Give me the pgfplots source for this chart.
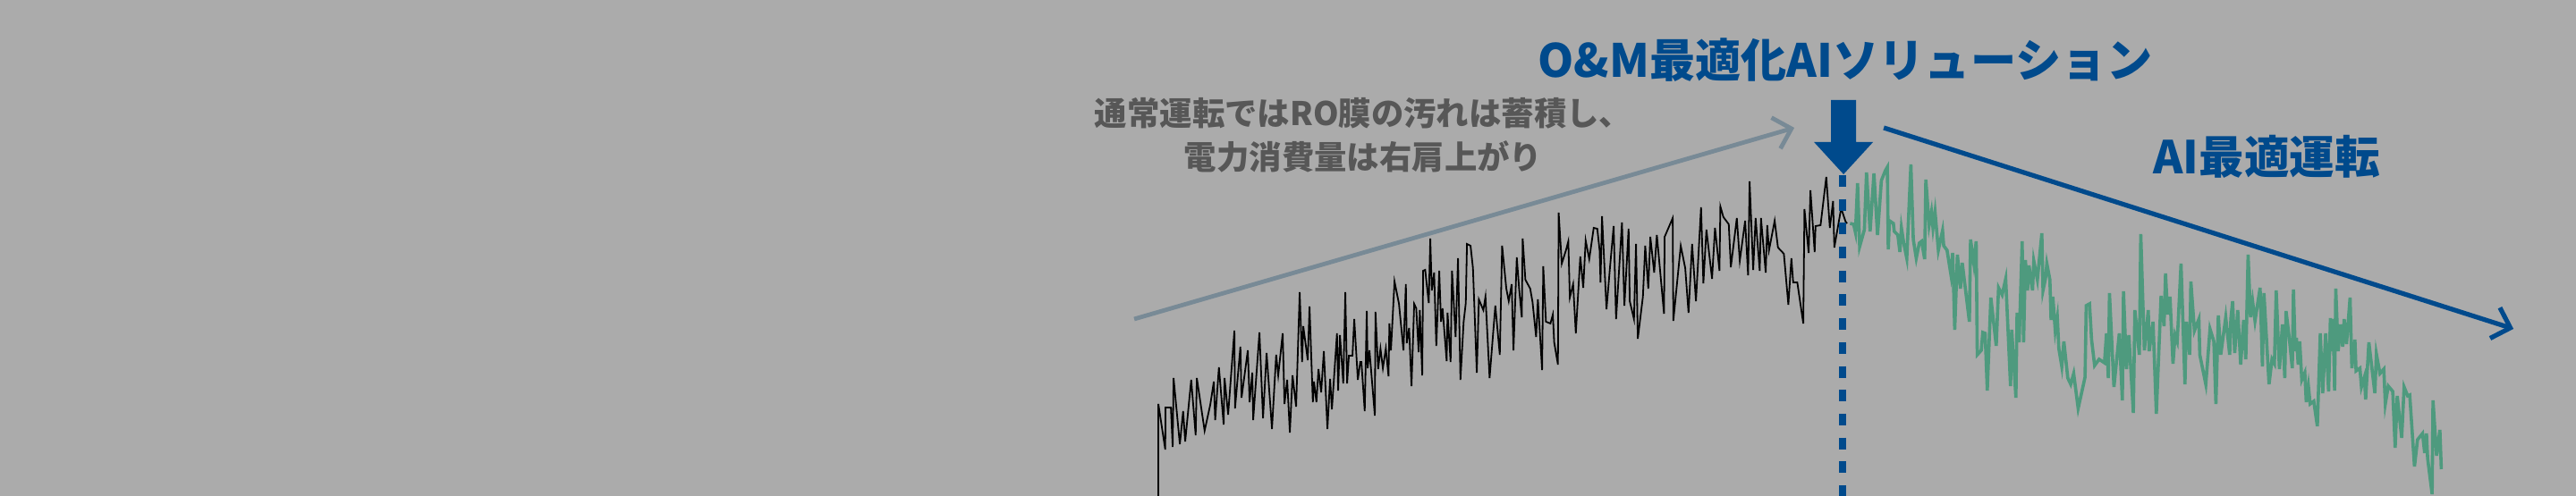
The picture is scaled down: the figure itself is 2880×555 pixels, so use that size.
\documentclass[border=0pt]{standalone}
\usepackage{pgfplots}
\pgfplotsset{compat=1.18}
\usepackage{fontspec}
\usetikzlibrary{arrows.meta}
\newfontfamily\jp{Noto Sans CJK JP}
\definecolor{bg}{HTML}{ABABAB}
\definecolor{aiblue}{HTML}{004A8C}
\definecolor{aigreen}{HTML}{4E9A7E}
\definecolor{trendgray}{HTML}{788A96}
\definecolor{txtgray}{HTML}{575757}

\begin{document}
\begin{tikzpicture}[x=0.5pt,y=0.5pt]
\useasboundingbox (0,0) rectangle (2880,555);
\fill[bg] (0,0) rectangle (2880,555);
\begin{axis}[
  at={(0,0)}, anchor=origin,
  width=1440pt, height=277.5pt, scale only axis,
  xmin=0, xmax=2880, ymin=0, ymax=555,
  hide axis,
]
  % normal operation: power consumption keeps rising
  \addplot[black, line width=0.9pt, line join=miter] coordinates {
    (1295,-5) (1295,103) (1302.7,52) (1303,99) (1309,99) (1311,55) (1312,132)
    (1319,58) (1322.7,95) (1325,61) (1331.7,130) (1336.7,68) (1338,132)
    (1346.7,73) (1353,102) (1357,128) (1358.5,85) (1362.7,144) (1368,80)
    (1369,132) (1373,91) (1380,185) (1380.7,98) (1386.7,167) (1388,110)
    (1395,163) (1397,105) (1400,138) (1401,85) (1408,183) (1412,87) (1416,160)
    (1422,75) (1426.7,158) (1429,135) (1434,182) (1436,103) (1439,130)
    (1442,71) (1445,135) (1449,100) (1453,228) (1455.7,150) (1457,190)
    (1462,152) (1464,212) (1467.7,105) (1469,128) (1471.7,105) (1474,142)
    (1477,116) (1480,162) (1484,75) (1487,131) (1489,97) (1494.7,182)
    (1496,118) (1498,180) (1501.7,126) (1504,228) (1506,126) (1508,157)
    (1512,157) (1514,198) (1518,130) (1520.7,150) (1522,150) (1525.7,95)
    (1528,207) (1529,143) (1531,163) (1537,90) (1537.7,206) (1540.7,142)
    (1543.3,165) (1546,143) (1549.3,165) (1552.3,134) (1553.3,193) (1555,163)
    (1559,240) (1564,215) (1569,163) (1571.7,237) (1572.7,171) (1575.3,188)
    (1578,123) (1581,215) (1583.3,210) (1586,161) (1587.3,208) (1590,135)
    (1591,252) (1593.3,253) (1595,237) (1597.3,216) (1599,288) (1600.7,230)
    (1603.3,250) (1605.7,168) (1609,252) (1611,195) (1612.7,210) (1617.3,151)
    (1618.3,205) (1621.7,150) (1623.3,252) (1627.3,178) (1630,266)
    (1632.7,130) (1636.3,195) (1638.7,216) (1640,282) (1644,280) (1646.7,255)
    (1651,138) (1653.3,220) (1658.3,208) (1660.7,223) (1665.3,132)
    (1671.7,213) (1676.7,158) (1679.3,280) (1684,232) (1686.7,218) (1690,237)
    (1692,163) (1695.7,267) (1698.3,232) (1701.3,200) (1702.3,288)
    (1705.3,242) (1710.7,232) (1713.3,217) (1717.3,178) (1719.3,220)
    (1724,141) (1725.3,257) (1728.3,195) (1733.3,193) (1736,203) (1737.5,172)
    (1741.7,147) (1742.5,317) (1746,260) (1750.7,275) (1753.3,285) (1755,222)
    (1758.7,237) (1761.7,182) (1766.7,268) (1770,233) (1772.7,286)
    (1776.7,265) (1781.7,300) (1785.7,299) (1788.3,275) (1789.3,239)
    (1791,313) (1796,209) (1800,257) (1804,302) (1806.7,198) (1813.3,306)
    (1816,213) (1820.7,299) (1822,218) (1826.7,198) (1829,282) (1831,176)
    (1836.7,223) (1839.3,280) (1842.7,232) (1845,290) (1849.3,250)
    (1852.3,292) (1860.3,204) (1861,290) (1870,311) (1870.7,196) (1879,280)
    (1884,255) (1887.7,205) (1891.7,282) (1896,218) (1901.7,323) (1904.3,238)
    (1907.7,298) (1914,243) (1917.3,300) (1922.3,252) (1923.3,324)
    (1926.7,312) (1932.7,304) (1935,256) (1941.7,311) (1945,263) (1951,308)
    (1954.3,247) (1956,352) (1960,253) (1962.7,311) (1967.3,252) (1968.7,311)
    (1974,250) (1975.7,303) (1977.7,275) (1984,308) (1987.7,278) (1994.3,271)
    (1999.3,214) (2002.7,266) (2004.7,239) (2009.3,239) (2016,193)
    (2017.3,321) (2022,272) (2024,342) (2028.7,273) (2029.7,302) (2035.3,303)
    (2041.7,357) (2045.7,300) (2049.3,330) (2050.7,278) (2058.3,322)
    (2063.3,307) (2065,305)
  };
  % AI optimised operation
  \addplot[aigreen, line width=1.8pt, line join=miter] coordinates {
    (2068.3,305) (2072.3,304) (2074.3,295) (2076.7,350) (2079,279)
    (2084.3,298) (2086.7,362) (2090.7,296) (2095,361) (2099,292) (2103.3,353)
    (2107.7,364) (2110,368) (2111,276) (2112.3,308) (2116.7,305) (2117.7,296)
    (2121.7,292) (2124,273) (2125.7,300) (2128.3,283) (2131.7,266)
    (2136.3,371) (2139,287) (2142.3,266) (2145.7,283) (2148.3,285)
    (2151.7,265) (2153,354) (2156.7,303) (2159.3,318) (2161,300) (2163.3,318)
    (2167,275) (2171.7,297) (2173,280) (2176.7,275) (2181,248) (2183,272)
    (2185.3,186) (2188.3,270) (2191.7,232) (2193.7,261) (2201.7,195)
    (2203,287) (2206.7,260) (2209.3,285) (2210.5,158) (2215,163) (2216.7,183)
    (2219.3,182) (2221.7,118) (2225.7,222) (2231.7,168) (2234.3,233)
    (2238.3,225) (2242.3,243) (2247.7,123) (2249,186) (2253.7,110) (2255,205)
    (2257.3,172) (2260.7,285) (2262.3,172) (2264.3,264) (2266.7,230)
    (2268.3,258) (2272.3,230) (2273.7,263) (2277.7,242) (2282.7,294)
    (2284,230) (2286.7,243) (2288.3,260) (2291.7,242) (2293,197) (2295,223)
    (2297.7,185) (2300,200) (2301.7,165) (2305,145) (2307.3,173) (2311.7,132)
    (2315,125) (2318.3,137) (2323.3,98) (2331,133) (2332.3,213) (2336,215)
    (2338.3,175) (2341.7,146) (2346.7,153) (2352.7,149) (2355,182) (2357,132)
    (2358.3,227) (2363.3,122) (2369.3,182) (2372.7,107) (2374,229)
    (2377.3,142) (2380,180) (2385,93) (2386.7,208) (2391.7,158) (2393.3,293)
    (2397.3,163) (2401.7,208) (2402.7,162) (2407,195) (2410.7,92) (2416,224)
    (2419.3,190) (2421,249) (2423.3,203) (2426,223) (2429.3,148) (2431.7,180)
    (2434,173) (2435,192) (2438.3,260) (2442.7,125) (2444.3,195) (2448,158)
    (2449.3,240) (2453.3,185) (2458.3,198) (2459.3,158) (2466,125)
    (2470.7,187) (2475,173) (2477.3,103) (2480,202) (2482.7,158) (2488.3,200)
    (2492.7,158) (2494,198) (2496,218) (2498.3,160) (2501.7,208) (2505,147)
    (2508.3,197) (2510.7,153) (2513.3,270) (2516,200) (2518.3,218) (2521,196)
    (2526.7,233) (2529.3,145) (2531,227) (2536.7,125) (2540,153) (2542.7,148)
    (2544.7,230) (2548.3,142) (2551.7,192) (2554.3,132) (2555.7,207)
    (2559.3,177) (2562.7,143) (2564,231) (2566,162) (2567.3,177) (2569.3,147)
    (2571,173) (2573.3,130) (2576.7,138) (2578.3,105) (2580.7,123)
    (2582.7,103) (2586.7,106) (2590.7,78) (2594,182) (2596.7,115) (2600,182)
    (2603.3,117) (2605.3,199) (2606.7,162) (2608.3,198) (2610,118)
    (2611.3,232) (2614,162) (2616.7,192) (2619,167) (2620.7,198) (2623.3,170)
    (2627.3,222) (2629.3,143) (2632.7,175) (2634,140) (2638.3,143) (2640,122)
    (2643.3,133) (2644.7,108) (2648.3,172) (2655,115) (2656.7,159)
    (2660.7,137) (2665,142) (2666.7,103) (2670,123) (2675,117) (2677.7,54)
    (2680,112) (2685,65) (2687.7,122) (2691.7,112) (2694,113) (2699.3,33)
    (2702.7,63) (2708.3,70) (2710.7,48) (2712.7,70) (2714,42) (2719,2)
    (2720,107) (2724,45) (2727.7,74) (2729.3,30)
  };

  % trend arrows
  \draw[trendgray, line width=2.4pt, -{Straight Barb[length=9pt,width=18pt]}]
    (axis cs:1268,198) -- (axis cs:2006,412);
  \draw[aiblue, line width=2.6pt, -{Straight Barb[length=9pt,width=18pt]}]
    (axis cs:2106,412) -- (axis cs:2810,187);

  % switch-over marker
  \draw[aiblue, line width=4pt, dash pattern=on 6.5pt off 6.85pt]
    (axis cs:2060,359) -- (axis cs:2060,0);
  \fill[aiblue] (axis cs:2047,443) -- (axis cs:2075,443) -- (axis cs:2075,396)
    -- (axis cs:2094,396) -- (axis cs:2061,360) -- (axis cs:2028,396)
    -- (axis cs:2047,396) -- cycle;

  % labels
  \node[text=aiblue, font=\jp\bfseries\fontsize{25.6}{30}\selectfont]
    at (axis cs:2063,488) {O\&M最適化AIソリューション};
  \node[text=aiblue, font=\jp\bfseries\fontsize{25.3}{30}\selectfont]
    at (axis cs:2534,380) {AI最適運転};
  \node[text=txtgray, align=center, font=\jp\bfseries\fontsize{18.2}{24.5}\selectfont]
    at (axis cs:1524,404) {通常運転ではRO膜の汚れは蓄積し、\\電力消費量は右肩上がり};
\end{axis}
\end{tikzpicture}
\end{document}
